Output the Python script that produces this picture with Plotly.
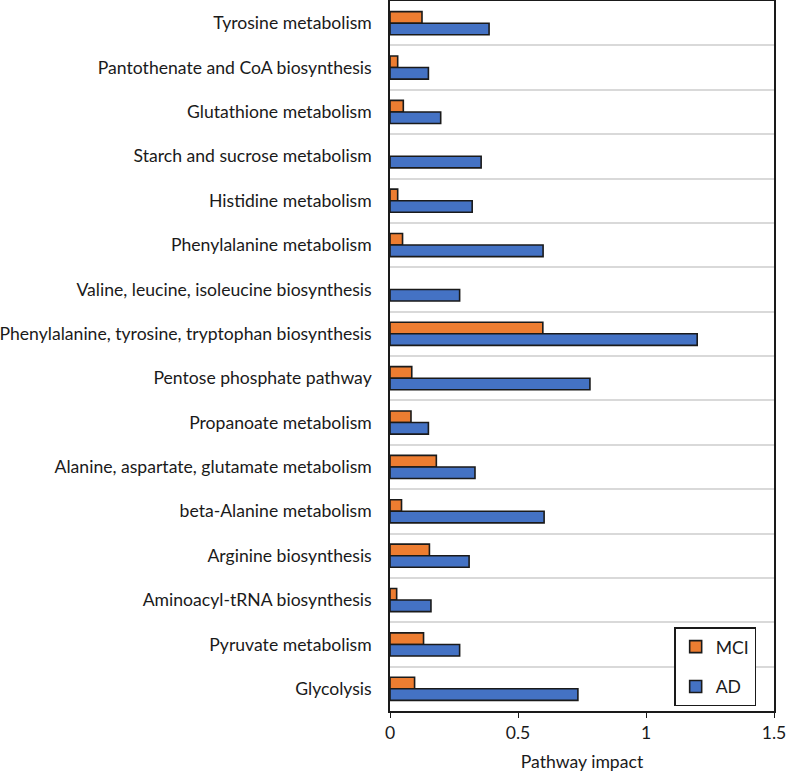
import plotly.graph_objects as go

categories = [
    "Tyrosine metabolism",
    "Pantothenate and CoA biosynthesis",
    "Glutathione metabolism",
    "Starch and sucrose metabolism",
    "Histidine metabolism",
    "Phenylalanine metabolism",
    "Valine, leucine, isoleucine biosynthesis",
    "Phenylalanine, tyrosine, tryptophan biosynthesis",
    "Pentose phosphate pathway",
    "Propanoate metabolism",
    "Alanine, aspartate, glutamate metabolism",
    "beta-Alanine metabolism",
    "Arginine biosynthesis",
    "Aminoacyl-tRNA biosynthesis",
    "Pyruvate metabolism",
    "Glycolysis",
]
mci = [0.125, 0.030, 0.052, None, 0.030, 0.049, None, 0.597, 0.085, 0.082,
       0.181, 0.045, 0.154, 0.026, 0.131, 0.096]
ad = [0.387, 0.150, 0.198, 0.356, 0.321, 0.598, 0.272, 1.200, 0.781, 0.150,
      0.332, 0.602, 0.309, 0.160, 0.272, 0.734]
x_ticks = [0, 0.5, 1, 1.5]
x_tick_labels = ["0", "0.5", "1", "1.5"]

FONT = "Lato, 'Open Sans', sans-serif"
TXT = "#1a1a1a"
FS = 17.6

fig = go.Figure()
fig.add_trace(go.Bar(
    y=categories, x=mci, name="MCI", orientation="h", legendgroup="mci",
    marker=dict(color="#ED7D31", line=dict(color="#1a1a1a", width=1.6)),
))
fig.add_trace(go.Bar(
    y=categories, x=ad, name="AD", orientation="h", legendgroup="ad",
    marker=dict(color="#4472C4", line=dict(color="#1a1a1a", width=1.6)),
))

fig.update_layout(
    width=787, height=773,
    margin=dict(l=390, r=13, t=1, b=62, autoexpand=False),
    plot_bgcolor="white", paper_bgcolor="white",
    barmode="group", bargap=0.48, bargroupgap=0,
    font=dict(family=FONT, size=FS, color=TXT),
    showlegend=True,
    legend=dict(
        x=0.74, y=0.118, xanchor="left", yanchor="top",
        bordercolor="#1a1a1a", borderwidth=1.5, bgcolor="white",
        font=dict(size=FS, color=TXT),
        tracegroupgap=14, itemwidth=30, traceorder="grouped",
    ),
    xaxis=dict(
        range=[0, 1.5], tickvals=x_ticks, ticktext=x_tick_labels,
        showgrid=False, zeroline=False, automargin=False,
        showline=True, linecolor="#1a1a1a", linewidth=1.5, mirror=True,
        ticks="outside", ticklen=5, tickcolor="#1a1a1a",
        title=dict(text="Pathway impact", standoff=14, font=dict(size=FS)),
    ),
    yaxis=dict(
        type="category", autorange="reversed", automargin=False,
        tickson="boundaries", showgrid=True, gridcolor="#d9d9d9", gridwidth=1.5,
        showline=True, linecolor="#1a1a1a", linewidth=1.5, mirror=True,
        ticks="", ticklabelstandoff=13,
    ),
)

fig.write_html(
    "out.html",
    config={"displayModeBar": False},
    post_script="document.body.style.margin='0';document.body.style.overflow='hidden';",
)
